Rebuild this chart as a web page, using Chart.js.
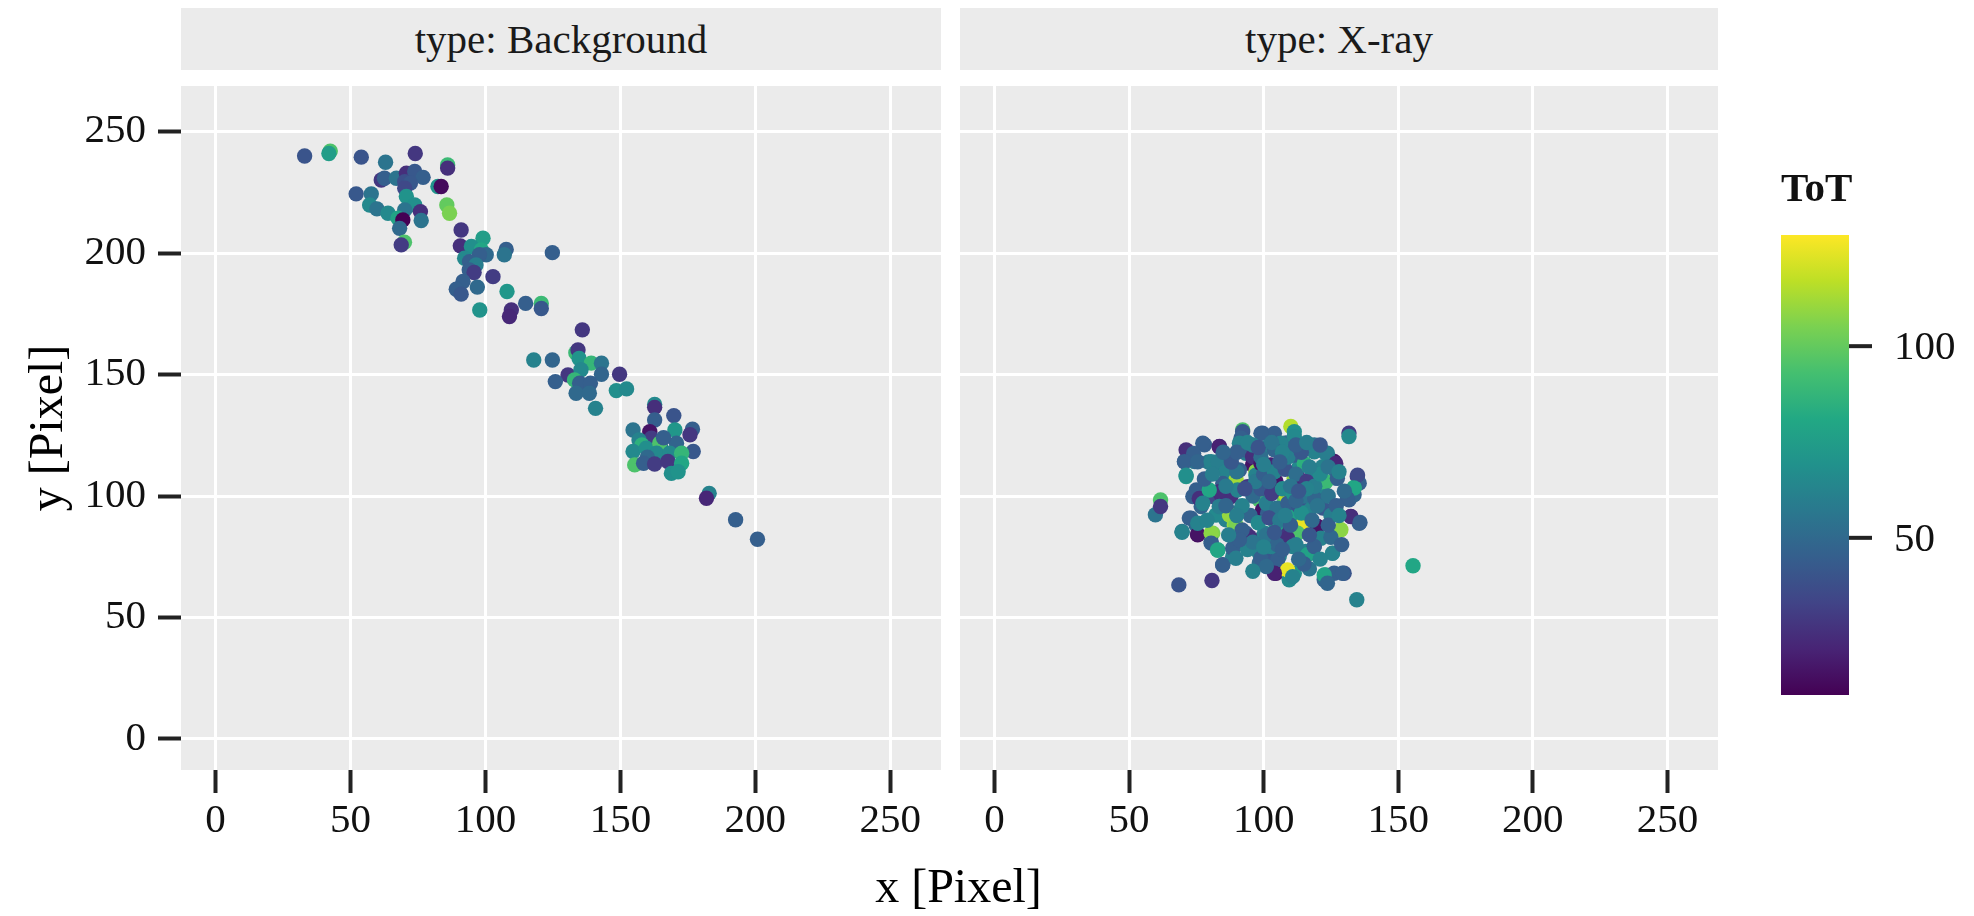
<!DOCTYPE html>
<html>
<head>
<meta charset="utf-8">
<title>ToT hit maps</title>
<script src="https://cdn.jsdelivr.net/npm/chart.js@4.4.1/dist/chart.umd.min.js"></script>
<style>
  html, body { margin: 0; padding: 0; background: #fff; }
  body { width: 1974px; height: 916px; position: relative; overflow: hidden;
         font-family: "Liberation Serif", "DejaVu Serif", serif; }
  canvas { position: absolute; top: 0; }
  #panelA { left: 0; }
  #panelB { left: 950px; }
  .strip { position: absolute; top: 8px; height: 62px; line-height: 62px; background: #ebebeb;
           color: #1a1a1a; font-size: 41px; text-align: center; }
  #stripA { left: 181px; width: 760px; }
  #stripB { left: 960px; width: 758px; }
  #xTitle { position: absolute; left: 190px; width: 1537px; top: 858px; text-align: center;
            font-size: 48px; color: #000; }
</style>
</head>
<body>
<div class="strip" id="stripA"></div>
<div class="strip" id="stripB"></div>
<canvas id="panelA" width="950" height="916"></canvas>
<canvas id="panelB" width="1024" height="916"></canvas>
<div id="xTitle"></div>
<script>
// facet labels and axis text
const panelTitles = ['type: Background', 'type: X-ray'];
const xLabel = 'x [Pixel]';
const yLabel = 'y [Pixel]';
const legendTitle = 'ToT';

// tick positions (pixel axes run 0..256, ggplot adds 5% on each side)
const xTicks = [0, 50, 100, 150, 200, 250];
const yTicks = [0, 50, 100, 150, 200, 250];
const totTicks = [50, 100];
const axisRange = [0, 256];

// Background events
const bgX = [
  33, 42.5, 42, 54, 63, 74, 86, 86, 61.4, 62.6,
  67, 70.7, 73.8, 76.9, 70.1, 72.2, 70.1, 82.4, 83.6, 52.1,
  57.7, 70.7, 57.1, 59.8, 63.9, 73.8, 70.1, 75.9, 76.2, 67.6,
  69.4, 68.2, 70, 68.8, 85.7, 86.7, 91, 90.7, 99.1, 94.8,
  98.5, 100.3, 97.8, 107.7, 107, 124.8, 92.3, 94.1, 96.5, 94,
  95.8, 102.8, 91.7, 89.2, 91, 97, 108, 97.9, 109.6, 108.9,
  114.9, 120.7, 120.7, 135.9, 133.5, 134.3, 117.9, 124.8, 134.7, 139.2,
  143, 143, 130.6, 135.4, 133, 149.7, 125.9, 134.9, 138.9, 133.6,
  138.5, 148.5, 152.3, 140.8, 162.7, 162.7, 162.7, 169.8, 154.7, 160.9,
  170.2, 176.7, 175.8, 161.5, 156.9, 165, 158, 154.7, 159.6, 164.6,
  170.8, 166, 163.4, 168.3, 177, 172.7, 160, 155.3, 158.6, 162.7,
  167.6, 172.7, 168.9, 171.4, 182.9, 181.9, 192.7, 200.8
];
const bgY = [
  240, 242, 241, 239.5, 237.4, 241, 236.3, 235, 230.1, 230.8,
  230.8, 232.9, 233.6, 231.2, 229.4, 228.8, 226.7, 227.4, 227.4, 224.4,
  224.4, 223.3, 219.8, 218.2, 216.4, 219.8, 217.8, 217.1, 213.4, 214.4,
  213.7, 210.2, 204.5, 203.4, 219.8, 216.4, 209.5, 203, 206.1, 202.7,
  201.3, 199.3, 199.3, 201.5, 199.3, 200.2, 197.9, 196.5, 195.1, 193.1,
  192, 190.3, 188.3, 185.1, 183.1, 186, 184.2, 176.6, 176.6, 173.9,
  179.3, 179.3, 177.2, 168.4, 159, 160.1, 156, 156, 156.6, 154.7,
  154.7, 150.1, 149.8, 152, 147.8, 150.1, 147.1, 146.4, 146.4, 142.3,
  142.3, 143.4, 144.1, 136.1, 137.7, 136.5, 131.3, 133.1, 127.2, 126.5,
  127.2, 127.5, 125.2, 123.8, 123.1, 120, 121, 118.3, 119.7, 121.7,
  121.7, 124, 117.6, 117.6, 118.3, 117.6, 116, 112.8, 113.5, 113.2,
  114.2, 113.5, 109.3, 110, 101.1, 99.1, 90.2, 82.2
];
const bgTot = [
  40, 95, 75, 40, 55, 28, 90, 25, 28, 45,
  55, 25, 42, 45, 38, 42, 35, 70, 12, 42,
  55, 70, 65, 55, 65, 68, 55, 25, 55, 78,
  9, 50, 95, 30, 100, 105, 28, 25, 75, 68,
  80, 50, 45, 45, 55, 45, 65, 45, 60, 45,
  30, 30, 45, 45, 42, 50, 72, 70, 25, 22,
  45, 90, 42, 28, 90, 28, 62, 48, 70, 88,
  55, 48, 28, 65, 88, 28, 45, 45, 45, 50,
  50, 68, 65, 62, 65, 25, 45, 40, 55, 15,
  72, 45, 28, 30, 62, 55, 85, 65, 68, 95,
  48, 45, 65, 65, 42, 88, 50, 95, 45, 30,
  28, 80, 68, 70, 62, 22, 45, 45
];

// X-ray events
const xrX = [
  68.5, 80.8, 134.6, 155.5, 131.7, 131.7, 59.8, 61.7, 61.7, 69.7,
  75.5, 81.1, 80.5, 83, 84.8, 88.5, 89.1, 71.2, 71.2, 70.6,
  78, 83.6, 92.2, 92.2, 91.6, 74.3, 79.5, 82.3, 73.7, 76.8,
  76.8, 81, 84.2, 73, 74.9, 83.6, 86, 89.1, 88.5, 93.4,
  98.4, 99.6, 98.4, 103.3, 104.6, 108.9, 111.4, 109.5, 105.8, 108.3,
  113.8, 113.2, 120, 128.7, 125.6, 122.5, 123, 126.2, 129.9, 115.7,
  118.8, 135.5, 132.4, 131.7, 133.6, 134.8, 135.5, 133.6, 126.2, 122.5,
  126.8, 120.6, 118.8, 123.7, 113.2, 108.3, 110.1, 111.4, 102.7, 99.6,
  93.4, 95.9, 102.7, 104.6, 111.4, 89.7, 97.1, 107.7, 107.7, 98.4,
  87.9, 111.4, 115.7, 99.6, 104.6, 77.4, 83.5, 71.8, 74, 70.6,
  75.5, 80.5, 83, 87.9, 91, 93.4, 95.9, 71.2, 86, 89.7,
  91, 84.8, 75, 76.1, 83.5, 79.8, 90.3, 94, 97.1, 111.4,
  104, 99, 106.4, 101.5, 118.8, 123.1, 126.8, 111.4, 115.1, 121.9,
  105.2, 99, 111.4, 113.8, 118.2, 123.1, 127.4, 134.9, 133.6, 104,
  108.3, 99, 118.8, 122.5, 131.1, 115.1, 69.7, 75.5, 80.5, 80.5,
  82.9, 84.8, 88.5, 89.7, 72.4, 75.5, 82.3, 87.3, 89.7, 94.7,
  98.4, 77.4, 83.5, 114.5, 120, 128.4, 132.4, 135.8, 125.6, 116.3,
  112.6, 108.9, 110.8, 121.3, 118.8, 99, 105.2, 108.9, 104, 110.8,
  122.5, 129.3, 123.7, 101.5, 106.4, 111.4, 100.3, 102.7, 96, 99,
  101, 103, 105, 107, 109, 111, 113, 115, 117, 119,
  97, 100, 104, 108, 112, 116, 119, 95, 98, 102,
  106, 110, 114, 118, 122, 124, 121, 99, 104, 109,
  114, 92, 93, 90, 125, 127, 101, 105, 112, 117,
  94, 101, 117, 115, 125, 86, 88, 96,
  90, 94, 98, 103, 107, 112, 116, 121, 124, 128,
  86, 90, 92, 96, 100, 104, 108, 112, 116, 120,
  124, 128, 130, 129, 121, 113, 107, 96, 91, 87,
  79, 78, 81, 85, 100, 106, 110, 102, 117, 113
];
const xrY = [
  63.4, 65.2, 57.3, 71.3, 125.9, 124.5, 92.3, 98.4, 95.7, 85.4,
  84, 84.7, 81.3, 77.8, 71.7, 75.1, 79.2, 108, 119, 114.2,
  121.1, 120.4, 127.2, 126.5, 123.8, 114.2, 114, 113.5, 99.8, 98.4,
  95.7, 99.8, 100.5, 90.9, 88.1, 93, 90.2, 88.1, 93, 84.7,
  82, 75.1, 72.4, 76.5, 68.2, 68.9, 68.2, 65.5, 75.1, 84.7,
  87.5, 85.4, 87.5, 86.1, 76.5, 65.5, 67.5, 68.2, 68.2, 77.2,
  79.2, 88.8, 91.6, 98.4, 100.5, 108, 105.3, 103.5, 114.2, 105.3,
  107.4, 119, 121, 117.6, 112, 121.8, 128.6, 126.5, 124.5, 125.9,
  117.6, 112.8, 112.8, 106, 107.4, 106.7, 110.1, 100, 99.1, 98.4,
  99.8, 93, 91.6, 94.3, 88.1, 121.7, 120.3, 118.3, 117.5, 114.1,
  114.1, 114.1, 114.1, 115.5, 121.7, 118.9, 116.2, 108.6, 110, 106.6,
  110.7, 105.2, 102.5, 99, 101.8, 102.5, 102.5, 103.8, 108.6, 124.4,
  125.8, 125.8, 121.7, 120.3, 118.2, 117.6, 113.4, 116.9, 113.4, 112.1,
  112.8, 113.4, 107.3, 106.6, 109.3, 105.9, 107.3, 108.6, 103.3, 105.9,
  100.4, 100.4, 101.1, 99.7, 99, 98.4, 85.1, 84.3, 84.7, 80.6,
  77.8, 71.6, 78.5, 74.4, 90.9, 88.8, 92.2, 92.2, 88.1, 83.3,
  76.4, 97, 95.7, 88.1, 87.4, 86.1, 91.5, 89.1, 76.4, 75.8,
  84.7, 82.6, 79.2, 82.6, 79.2, 74.4, 73.7, 69.6, 68.2, 66.8,
  67.5, 68.2, 64.1, 92.9, 92.2, 93.6, 84.7, 79.2, 100, 103,
  97, 101, 95, 103, 97, 101, 96, 100, 94, 99,
  106, 109, 110, 111, 109, 106, 104, 92, 89, 91,
  90, 88, 93, 90, 95, 100, 109, 116, 119, 116,
  118, 96, 103, 110, 92, 96, 84, 80, 80, 84,
  78, 71, 70, 72, 83, 104, 114, 121,
  118, 122, 120, 122, 118, 121, 122, 121, 112, 110,
  96, 92, 86, 81, 79, 85, 92, 98, 103, 96,
  88, 92, 102, 80, 74, 74, 78, 69, 82, 84,
  90, 107, 109, 118, 113, 114, 104, 106, 112, 102
];
const xrTot = [
  40, 28, 62, 80, 30, 65, 55, 95, 28, 55,
  12, 105, 48, 78, 45, 60, 48, 72, 25, 48,
  45, 25, 95, 42, 45, 55, 58, 55, 45, 28,
  48, 35, 25, 45, 50, 65, 62, 110, 55, 45,
  48, 45, 50, 42, 15, 129, 70, 65, 62, 28,
  122, 105, 15, 110, 62, 48, 80, 45, 40, 62,
  45, 45, 20, 45, 48, 30, 45, 85, 15, 92,
  50, 60, 55, 58, 65, 48, 115, 68, 45, 45,
  60, 15, 20, 18, 120, 110, 108, 20, 100, 95,
  25, 78, 112, 15, 80, 45, 20, 25, 45, 45,
  48, 62, 60, 45, 62, 45, 25, 68, 62, 112,
  45, 45, 45, 25, 25, 80, 62, 28, 62, 65,
  45, 45, 62, 60, 62, 60, 22, 45, 85, 62,
  25, 15, 110, 25, 62, 90, 45, 35, 80, 15,
  118, 90, 45, 62, 45, 62, 62, 15, 108, 45,
  80, 45, 45, 60, 45, 62, 65, 110, 105, 25,
  62, 62, 60, 125, 15, 108, 25, 45, 62, 78,
  95, 25, 62, 62, 45, 45, 45, 125, 20, 62,
  78, 45, 48, 45, 62, 78, 62, 62, 50, 42,
  60, 30, 55, 65, 45, 70, 40, 55, 62, 48,
  58, 45, 62, 40, 52, 30, 60, 48, 65, 38,
  58, 45, 68, 50, 42, 55, 65, 52, 48, 60,
  42, 62, 38, 55, 60, 45, 55, 48, 60, 42,
  62, 50, 55, 45, 50, 58, 42, 60,
  45, 62, 40, 55, 62, 45, 60, 42, 55, 62,
  48, 60, 45, 55, 62, 42, 60, 48, 62, 55,
  45, 62, 50, 45, 62, 50, 45, 62, 45, 60,
  62, 45, 60, 48, 60, 45, 55, 48, 60, 42
];

// viridis colour map
const viridisStops = ['#440154', '#482475', '#414487', '#355f8d', '#2a788e', '#21918c',
                      '#22a884', '#44bf70', '#7ad151', '#bddf26', '#fde725'];

const SERIF = '"Liberation Serif", "DejaVu Serif", serif';
const TICK_FONT = { family: SERIF, size: 41 };

const hexToRgb = (h) => [1, 3, 5].map(i => parseInt(h.slice(i, i + 2), 16));

const viridis = (t) => {
  t = Math.min(1, Math.max(0, t));
  const pos = t * (viridisStops.length - 1);
  const i = Math.min(Math.floor(pos), viridisStops.length - 2);
  const f = pos - i;
  const a = hexToRgb(viridisStops[i]);
  const b = hexToRgb(viridisStops[i + 1]);
  const c = a.map((v, k) => Math.round(v + (b[k] - v) * f));
  return `rgb(${c[0]}, ${c[1]}, ${c[2]})`;
};

// colour scale limits follow the data, like ggplot
const allTot = bgTot.concat(xrTot);
const totMin = Math.min(...allTot);
const totMax = Math.max(...allTot);
const totColor = (v) => viridis((v - totMin) / (totMax - totMin));

// ggplot default expansion of 5%
const span = axisRange[1] - axisRange[0];
const axisMin = axisRange[0] - 0.05 * span;
const axisMax = axisRange[1] + 0.05 * span;

document.getElementById('stripA').textContent = panelTitles[0];
document.getElementById('stripB').textContent = panelTitles[1];
document.getElementById('xTitle').textContent = xLabel;

// grey panel background
const panelBg = {
  id: 'panelBg',
  beforeDraw(chart) {
    const { ctx, chartArea: a } = chart;
    ctx.save();
    ctx.fillStyle = '#ebebeb';
    ctx.fillRect(a.left, a.top, a.right - a.left, a.bottom - a.top);
    ctx.restore();
  }
};

// continuous colour bar on the right of the second panel
const colorBar = {
  id: 'colorBar',
  afterDraw(chart) {
    const { ctx, chartArea: a } = chart;
    const left = a.right + 63;
    const width = 68;
    const top = 235;
    const bottom = 695;
    const grad = ctx.createLinearGradient(0, bottom, 0, top);
    viridisStops.forEach((c, i) => grad.addColorStop(i / (viridisStops.length - 1), c));
    ctx.save();
    ctx.fillStyle = grad;
    ctx.fillRect(left, top, width, bottom - top);

    const toY = (v) => bottom - (v - totMin) / (totMax - totMin) * (bottom - top);
    ctx.strokeStyle = '#222';
    ctx.lineWidth = 4;
    ctx.fillStyle = '#111';
    ctx.font = `41px ${SERIF}`;
    ctx.textAlign = 'left';
    ctx.textBaseline = 'middle';
    totTicks.forEach(v => {
      const y = toY(v);
      ctx.beginPath();
      ctx.moveTo(left + width, y);
      ctx.lineTo(left + width + 23, y);
      ctx.stroke();
      ctx.fillText(String(v), left + width + 45, y + 2);
    });

    ctx.font = `bold 41px ${SERIF}`;
    ctx.textBaseline = 'alphabetic';
    ctx.fillText(legendTitle, left, 201);
    ctx.restore();
  }
};

const fixedTicks = (values) => (scale) => {
  scale.ticks = values.map(v => ({ value: v }));
};

const makePoints = (xs, ys) => xs.map((x, i) => ({ x, y: ys[i] }));

const gridStyle = {
  color: '#ffffff',
  lineWidth: 3,
  tickColor: '#222',
  tickWidth: 4,
  tickLength: 23
};

const buildChart = (canvas, xs, ys, tots, showY, rightPad, extraPlugins) => new Chart(canvas, {
  type: 'scatter',
  data: {
    datasets: [{
      data: makePoints(xs, ys),
      backgroundColor: tots.map(totColor),
      pointRadius: 7.7,
      pointHoverRadius: 7.7,
      borderWidth: 0
    }]
  },
  options: {
    responsive: false,
    animation: false,
    events: [],
    layout: { padding: { left: 0, right: rightPad, top: 86, bottom: 0 } },
    plugins: { legend: { display: false }, tooltip: { enabled: false } },
    scales: {
      x: {
        type: 'linear',
        min: axisMin,
        max: axisMax,
        afterBuildTicks: fixedTicks(xTicks),
        afterFit: (s) => { s.height = 146; },
        grid: gridStyle,
        border: { display: false },
        ticks: { font: TICK_FONT, color: '#111', padding: 4, maxRotation: 0 }
      },
      y: {
        type: 'linear',
        min: axisMin,
        max: axisMax,
        afterBuildTicks: fixedTicks(yTicks),
        afterFit: (s) => { s.width = showY ? 181 : 10; },
        grid: showY ? gridStyle : { ...gridStyle, drawTicks: false },
        border: { display: false },
        ticks: { display: showY, font: TICK_FONT, color: '#111', padding: 12 },
        title: {
          display: showY,
          text: yLabel,
          color: '#000',
          font: { family: SERIF, size: 48 },
          padding: { top: 21 }
        }
      }
    }
  },
  plugins: [panelBg].concat(extraPlugins)
});

buildChart(document.getElementById('panelA'), bgX, bgY, bgTot, true, 9, []);
buildChart(document.getElementById('panelB'), xrX, xrY, xrTot, false, 256, [colorBar]);
</script>
</body>
</html>
